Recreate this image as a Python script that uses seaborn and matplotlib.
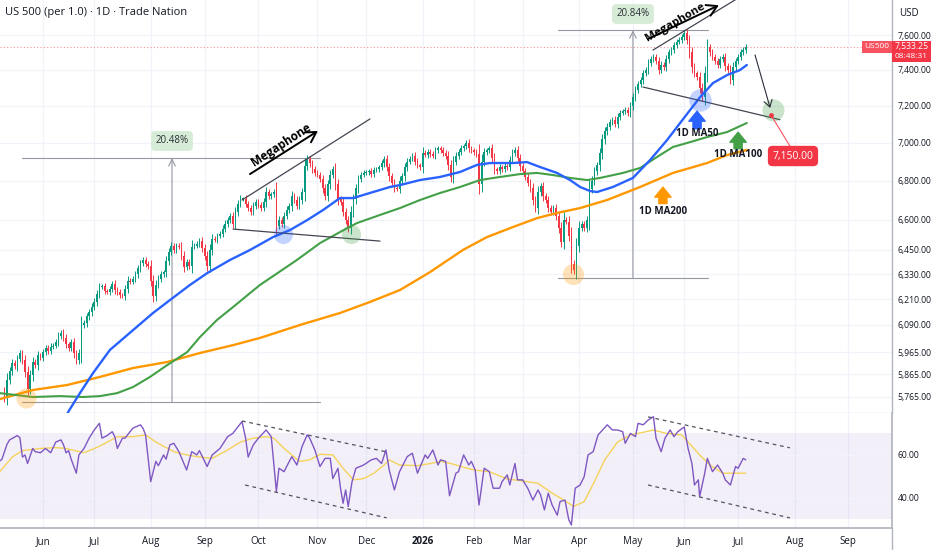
import numpy as np
import pandas as pd
import matplotlib
matplotlib.use("Agg")
import matplotlib.pyplot as plt
import seaborn as sns
from matplotlib.patches import Rectangle
from matplotlib.transforms import blended_transform_factory

# ---------------- data ----------------
holidays = ["2025-05-26", "2025-06-19", "2025-07-04", "2025-09-01", "2025-11-27",
            "2025-12-25", "2026-01-01", "2026-01-19", "2026-02-16", "2026-04-03",
            "2026-05-25", "2026-06-19", "2026-07-03", "2026-09-07"]
first_open = 5790
closes = [
    5760, 5840, 5880, 5915, 5900, 5935, 5960, 5930, 5875, 5800,
    5860, 5919, 5905, 5950, 5940, 5965, 5985, 5970, 5990, 5995,
    6010, 6040, 6055, 6030, 6000, 5985, 6010, 5960, 5930, 5960,
    6090, 6100, 6130, 6150, 6175, 6200, 6235, 6270, 6274, 6250,
    6245, 6260, 6284, 6255, 6245, 6230, 6226, 6260, 6300, 6295,
    6308, 6330, 6360, 6385, 6400, 6380, 6370, 6300, 6226, 6280,
    6310, 6330, 6340, 6396, 6440, 6470, 6450, 6470, 6465, 6420,
    6366, 6390, 6371, 6465, 6470, 6480, 6495, 6460, 6420, 6371,
    6450, 6505, 6500, 6520, 6530, 6555, 6580, 6600, 6620, 6580,
    6640, 6680, 6706, 6706, 6680, 6660, 6640, 6670, 6690, 6675,
    6660, 6690, 6741, 6720, 6730, 6741, 6570, 6600, 6580, 6620,
    6650, 6670, 6721, 6700, 6670, 6700, 6741, 6875, 6912, 6890,
    6860, 6840, 6830, 6808, 6760, 6721, 6780, 6830, 6860, 6780,
    6706, 6690, 6640, 6600, 6560, 6640, 6706, 6760, 6808, 6830,
    6840, 6844, 6850, 6835, 6855, 6860, 6870, 6890, 6912, 6870,
    6823, 6790, 6760, 6757, 6800, 6823, 6870, 6900, 6915, 6930,
    6900, 6880, 6870, 6945, 6935, 6950, 6940, 6930, 6960, 6970,
    6960, 6945, 6930, 6880, 6820, 6900, 6930, 6950, 6970, 6980,
    7000, 6970, 6960, 6950, 6940, 6780, 6900, 6950, 6960, 6970,
    6920, 6860, 6850, 6870, 6860, 6875, 6870, 6910, 6945, 6960,
    6920, 6875, 6850, 6820, 6790, 6760, 6700, 6660, 6740, 6770,
    6720, 6700, 6660, 6640, 6660, 6620, 6560, 6490, 6600, 6590,
    6520, 6380, 6350, 6470, 6560, 6580, 6560, 6600, 6757, 6800,
    6850, 6880, 6945, 7017, 7060, 7087, 7110, 7124, 7100, 7140,
    7162, 7170, 7178, 7160, 7200, 7249, 7290, 7320, 7344, 7380,
    7400, 7440, 7460, 7473, 7450, 7400, 7430, 7416, 7460, 7500,
    7513, 7540, 7560, 7571, 7590, 7612, 7571, 7500, 7416, 7380,
    7361, 7300, 7249, 7380, 7530, 7500, 7473, 7450, 7430, 7460,
    7473, 7420, 7400, 7344, 7416, 7450, 7473, 7500, 7513, 7533.25,
]

ma50_idx = [21.6, 24.8, 29.4, 34.5, 41.1, 50.1, 57.9, 64.5, 72.3, 79, 87.9, 95.7, 104.7,
            111.3, 118, 124.2, 130.8, 135.9, 143.7, 150.3, 154.2, 162, 169.8, 177.6,
            184.2, 189.3, 198.2, 203.7, 208.8, 215.4, 220.5, 224.4, 228.3, 231, 237.2,
            245, 251.7, 258.3, 263.4, 267.3, 271.2, 276.2, 281.7, 286.7, 289.4]
ma50_val = [5620, 5698, 5781, 5870, 5975, 6066, 6146, 6207, 6279, 6336, 6400, 6449, 6513,
            6548, 6598, 6649, 6710, 6710, 6741, 6767, 6777, 6803, 6819, 6845,
            6882, 6892, 6892, 6897, 6871, 6840, 6803, 6767, 6746, 6741, 6767,
            6814, 6908, 7014, 7106, 7177, 7248, 7326, 7371, 7399, 7428]

ma100_idx = [-1.8, 11.1, 21.6, 30.6, 37.2, 43.9, 50.1, 56.7, 63.4, 71.2, 76.2, 82.8, 89.1,
             95.7, 99.6, 114, 123, 130.8, 137.4, 146.4, 154.2, 162, 169.8, 177.6, 185.4,
             193.2, 201, 207.6, 213.8, 220.5, 227.1, 232.2, 241.1, 247.8, 254.4, 260.6,
             267.3, 273.9, 281.7, 289.4]
ma100_val = [5781, 5764, 5768, 5764, 5768, 5781, 5808, 5853, 5906, 5965, 6034, 6113, 6174,
             6240, 6279, 6400, 6483, 6538, 6583, 6624, 6659, 6700, 6736, 6767, 6803,
             6819, 6834, 6840, 6829, 6814, 6803, 6814, 6840, 6866, 6924, 6977,
             7003, 7030, 7057, 7106]

ma200_idx = [-1.8, 11.1, 24.4, 37.2, 50.1, 63.4, 76.2, 89.1, 99.6, 115.2, 130.8, 142.5,
             154.2, 165.9, 178.7, 188.1, 198.2, 207.6, 215.4, 224.4, 234.9, 247.8, 260.6,
             273.9, 281.7, 289.4]
ma200_val = [5755, 5795, 5817, 5853, 5893, 5920, 5961, 5997, 6030, 6090, 6146, 6198,
             6255, 6341, 6449, 6513, 6563, 6608, 6634, 6659, 6700, 6767, 6840,
             6892, 6934, 6961]

rsi_idx = [-2, -1, 1, 2, 5, 6, 7, 8, 9, 11, 12, 14, 16, 18, 20, 22, 23, 24, 25, 26, 28, 29,
           31, 33, 35, 37, 38, 40, 42, 43, 44, 46, 47, 50, 53, 54, 55, 57, 59, 60, 62, 63,
           64.5, 66, 68, 71, 73, 75, 76, 79, 81, 84, 87, 89, 92.6, 94, 95, 97, 99, 102,
           104, 106, 107, 109, 110, 112, 114, 116, 118, 119, 121, 123, 125, 127, 128,
           130, 131, 132, 133, 134, 135.5, 137, 140, 143, 145, 147, 148.7, 150, 152,
           154, 157, 159, 161, 164, 165, 167, 169, 170, 172, 173.5, 176, 177, 179,
           181, 182, 183.5, 185, 187, 189, 190.5, 193, 194, 196, 197, 199, 200, 202,
           204, 206, 208, 209, 210.5, 212, 213.5, 215.5, 216.6, 218.5, 220, 221,
           222.5, 224.4, 226, 227.5, 229.5, 231.4, 235, 237, 239, 241, 242, 244, 246,
           247, 249, 251, 253, 254, 256, 257.5, 259.5, 261, 262.5, 265, 266.5, 268,
           269, 270.5, 271, 273, 274, 276, 278, 280, 281, 283, 285, 286, 288, 289]
rsi_val = [57, 58, 65, 67, 69, 68, 59, 60, 56, 63, 61.5, 61, 63, 61, 66, 67, 64.7, 61, 62,
           58, 51.5, 60, 63, 67.8, 71.6, 74.7, 67.8, 69, 70.8, 68.5, 63, 67.8, 67.8, 72.4,
           74, 72.4, 69.3, 47.6, 57, 55, 60, 58, 64.7, 65.4, 61.5, 53, 61.5, 60, 62, 54.6,
           60, 63, 68.5, 70, 75.5, 67.8, 59, 64.7, 67.8, 71.6, 68.5, 43, 53.8, 52.2,
           54.6, 59.2, 55.3, 63.9, 69.3, 67.8, 62.3, 54.6, 58.4, 58.4, 49, 53.8, 44.5,
           37.5, 43.7, 36, 47.6, 53.8, 55.3, 57.7, 58.4, 56, 62.3, 53, 43.7, 52.2, 59.2,
           60.8, 51.5, 60, 58.4, 62.3, 55.3, 57.7, 57, 41, 51.5, 52.2, 60, 55.3, 57, 53,
           36.7, 53.8, 52.2, 44.5, 44.5, 47.6, 50.7, 46, 56, 48.4, 48.4, 44.5, 39, 43.7,
           41.4, 34.4, 42.2, 36.7, 32, 38.3, 39, 29.8, 27.4, 44.5, 46, 49.9, 60, 61.5,
           69.3, 74, 71.6, 71.6, 70.8, 65.4, 70, 68.5, 74.7, 74, 76.3, 77.8, 67.8,
           61.5, 67.8, 71.6, 68.5, 70.8, 73, 63, 56, 46, 48.4, 40.6, 51.5, 58.4, 52.2,
           55.3, 51.5, 48.4, 46, 54.6, 53.8, 58.4, 57.7]

rsima_idx = [-2, 3, 7, 14, 20, 24, 31, 37, 44, 50, 55, 59, 66, 71, 76, 81, 87, 92, 97, 102,
             105, 109, 113, 115, 119, 123, 128, 132, 136, 140, 144, 148, 150, 154, 161,
             166, 170, 174, 178, 183, 189, 196, 202, 208, 213, 218, 222, 226, 230, 234,
             239, 244, 249, 253, 258, 264, 266.5, 271, 275, 280, 284, 289]
rsima_val = [52, 59, 62, 63, 63.4, 63, 61, 64, 68.5, 68.5, 69.3, 66, 61.5, 60, 59, 58.4,
             62.3, 66, 67.8, 68.5, 67.8, 63, 59, 57, 57.7, 60.3, 60, 53.8, 48.4, 49, 51.5,
             55.3, 57.7, 55.3, 55, 56, 57, 56, 54.6, 53, 52.2, 48.8, 47.9, 46.8, 42.6, 39,
             36, 38.3, 47.6, 57.7, 66, 69.3, 70.5, 71.6, 70, 69.3, 66, 60, 55.3, 51.5,
             51.5, 51.5]

price_ticks = [5765, 5865, 5965, 6090, 6210, 6330, 6450, 6600, 6800, 7000, 7200, 7400, 7600]
rsi_ticks = [40, 60]
last_price = 7533.25
target_price = 7150.00
move1_pct = "20.48%"
move2_pct = "20.84%"

# ---------------- style ----------------
sns.set_theme(style="white")
plt.rcParams["font.family"] = ["Open Sans", "DejaVu Sans"]

GREEN_C = "#089981"
RED_C = "#f23645"
TXT = "#131722"
GRID = "#f0f3fa"
AXC = "#b2b5be"

W, H = 932, 550
fig = plt.figure(figsize=(W / 100, H / 100), dpi=100)
fig.patch.set_facecolor("white")

def fx(px):
    return px / W

def fy(py):
    return 1 - py / H

ax = fig.add_axes([0, fy(413), fx(892), 413 / H])
ax_r = fig.add_axes([0, fy(528), fx(892), (528 - 413) / H], sharex=ax)

dates = pd.bdate_range("2025-05-09", "2026-09-30", freq="C", holidays=holidays)
n = len(closes)
xi = np.arange(n)

# month ticks
mt_pos, mt_lab = [], []
prev = None
for i, d in enumerate(dates):
    key = (d.year, d.month)
    if key != prev:
        if i > 0:
            mt_pos.append(i)
            mt_lab.append("2026" if d.month == 1 else d.strftime("%b"))
        prev = key

XMIN, XMAX = -1.75, 346
for a in (ax, ax_r):
    a.set_xlim(XMIN, XMAX)
    a.set_facecolor("white")
    for p in mt_pos:
        a.axvline(p, color=GRID, lw=0.9, zorder=0)

# ---- price panel ----
ax.set_yscale("log")
ax.set_ylim(5694, 7806)
for t in price_ticks:
    ax.axhline(t, color=GRID, lw=0.9, zorder=0)

c = np.array(closes, dtype=float)
o = np.r_[first_open, c[:-1]]
up = c >= o
cols = np.where(up, GREEN_C, RED_C)
b_lo = np.minimum(o, c)
b_hi = np.maximum(o, c)
b_h = np.maximum(b_hi - b_lo, 0.0005 * c)
wick = 0.0016 * c + 0.25 * (b_hi - b_lo)
ax.vlines(xi, b_lo - wick, b_hi + wick, colors=cols, lw=0.7, zorder=3)
ax.bar(xi, b_h, bottom=b_lo, width=0.62, color=cols, linewidth=0, zorder=4)

sns.lineplot(x=ma200_idx, y=ma200_val, ax=ax, color="#ff9800", lw=1.7, estimator=None,
             sort=False, zorder=5)
sns.lineplot(x=ma100_idx, y=ma100_val, ax=ax, color="#43a047", lw=1.5, estimator=None,
             sort=False, zorder=5)
sns.lineplot(x=ma50_idx, y=ma50_val, ax=ax, color="#2962ff", lw=1.7, estimator=None,
             sort=False, zorder=6)

# last price dotted line
ax.axhline(last_price, color=RED_C, lw=0.8, ls=(0, (1, 2)), alpha=0.55, zorder=2)

# circles
for (cx, cy, cc, s) in [(8.4, 5759, "#ff9800", 210), (108.6, 6528, "#2962ff", 190),
                        (135.1, 6528, "#43a047", 190), (221.6, 6332, "#ff9800", 230),
                        (271.2, 7232, "#2962ff", 260), (299.6, 7177, "#43a047", 250)]:
    ax.scatter([cx], [cy], s=s, color=cc, alpha=0.28, linewidths=0, zorder=7)

# measurement 1
mc = "#9598a1"
ax.plot([6.8, 123], [6918, 6918], color=mc, lw=0.8, zorder=2)
ax.plot([6.8, 123], [5742, 5742], color=mc, lw=0.8, zorder=2)
ax.annotate("", xy=(65.3, 6918), xytext=(65.3, 5742),
            arrowprops=dict(arrowstyle="->", color=mc, lw=0.8, shrinkA=0, shrinkB=0), zorder=2)
ax.text(65.3, 7009, move1_pct, ha="center", va="center", fontsize=7, color="#2a2e39",
        bbox=dict(boxstyle="round,pad=0.45", fc="#d7ecd6", ec="none"), zorder=8)
# measurement 2
ax.plot([215.8, 274.3], [7627, 7627], color=mc, lw=0.8, zorder=2)
ax.plot([215.8, 274.3], [6312, 6312], color=mc, lw=0.8, zorder=2)
ax.annotate("", xy=(245, 7627), xytext=(245, 6312),
            arrowprops=dict(arrowstyle="->", color=mc, lw=0.8, shrinkA=0, shrinkB=0), zorder=2)
ax.text(245, 7723, move2_pct, ha="center", va="center", fontsize=7, color="#2a2e39",
        bbox=dict(boxstyle="round,pad=0.45", fc="#d7ecd6", ec="none"), zorder=8)

# megaphone 1
ax.plot([89.1, 146.4], [6553, 6493], color="#434651", lw=0.9, zorder=6)
ax.plot([92.6, 142.5], [6700, 7128], color="#434651", lw=0.9, zorder=6)
ax.annotate("", xy=(122.2, 7063), xytext=(95.7, 6834),
            arrowprops=dict(arrowstyle="->,head_length=0.6,head_width=0.35", color="black",
                            lw=1.4, shrinkA=0, shrinkB=0), zorder=8)
ax.text(107.8, 6987, "Megaphone", rotation=33, rotation_mode="anchor", ha="center",
        va="center", fontsize=8.5, fontweight="bold", color="black", zorder=8)
# megaphone 2
ax.plot([248.9, 302.3], [7304, 7124], color="#434651", lw=0.9, zorder=6)
ax.plot([252.8, 286.7], [7513, 7824], color="#434651", lw=0.9, zorder=6)
ax.annotate("", xy=(278.5, 7775), xytext=(250.9, 7577),
            arrowprops=dict(arrowstyle="->,head_length=0.6,head_width=0.35", color="black",
                            lw=1.4, shrinkA=0, shrinkB=0), zorder=8, annotation_clip=False)
ax.text(261.5, 7672, "Megaphone", rotation=30, rotation_mode="anchor", ha="center",
        va="center", fontsize=8.2, fontweight="bold", color="black", zorder=8)

# projection arrow and target
ax.annotate("", xy=(298.5, 7188), xytext=(292.6, 7485),
            arrowprops=dict(arrowstyle="->,head_length=0.4,head_width=0.25", color="#2a2e39",
                            lw=0.8, shrinkA=0, shrinkB=0), zorder=8)
ax.plot([298.8, 306.5], [target_price, 6975], color="#f7525f", lw=0.8, zorder=8)
ax.scatter([298.8], [target_price], s=12, color=RED_C, zorder=9, linewidths=0)
ax.text(307.4, 6929, f"{target_price:,.2f}", ha="center", va="center", fontsize=7.5,
        color="white", bbox=dict(boxstyle="round,pad=0.45", fc=RED_C, ec="none"), zorder=9)

# fat MA arrows and labels
def fat_arrow(x, y0, y1, col):
    ax.annotate("", xy=(x, y1), xytext=(x, y0),
                arrowprops=dict(arrowstyle="simple,head_length=0.55,head_width=0.9,tail_width=0.45",
                                color=col, mutation_scale=13, shrinkA=0, shrinkB=0), zorder=9)

fat_arrow(270, 7075, 7170, "#2962ff")
ax.text(270, 7050, "1D MA50", ha="center", va="center", fontsize=7, fontweight="bold",
        color=TXT, zorder=9)
fat_arrow(286, 6968, 7056, "#43a047")
ax.text(286, 6938, "1D MA100", ha="center", va="center", fontsize=7, fontweight="bold",
        color=TXT, zorder=9)
fat_arrow(256.7, 6682, 6766, "#ff9800")
ax.text(256.7, 6642, "1D MA200", ha="center", va="center", fontsize=7, fontweight="bold",
        color=TXT, zorder=9)

# tag on the chart
bt = blended_transform_factory(ax.transAxes, ax.transData)
ax.text(0.997, last_price, "US500", transform=bt, ha="right", va="center", fontsize=6,
        color="white", bbox=dict(boxstyle="square,pad=0.3", fc="#f7525f", ec="none"), zorder=10)

ax.yaxis.tick_right()
ax.set_yticks(price_ticks)
ax.set_yticklabels([f"{t:,.2f}" for t in price_ticks])
ax.yaxis.set_minor_locator(matplotlib.ticker.NullLocator())
ax.tick_params(axis="y", length=0, pad=4, labelsize=6.2, labelcolor=TXT)
ax.tick_params(axis="x", length=0, labelbottom=False)
ax.set_xlabel("")
ax.set_ylabel("")
for s in ["top", "left"]:
    ax.spines[s].set_visible(False)
ax.spines["right"].set_color(AXC)
ax.spines["right"].set_linewidth(1.0)
ax.spines["bottom"].set_color("#e0e3eb")
ax.spines["bottom"].set_linewidth(1.0)

# ---- RSI panel ----
ax_r.set_ylim(26, 79.5)
ax_r.axhspan(30, 70, color="#7e57c2", alpha=0.09, lw=0, zorder=0)
for t in rsi_ticks:
    ax_r.axhline(t, color=GRID, lw=0.9, zorder=1)
sns.lineplot(x=rsima_idx, y=rsima_val, ax=ax_r, color="#f5d35a", lw=1.0, estimator=None,
             sort=False, zorder=3)
sns.lineplot(x=rsi_idx, y=rsi_val, ax=ax_r, color="#7e57c2", lw=1.0, estimator=None,
             sort=False, zorder=4)
dash = dict(color="#50535e", lw=0.9, ls=(0, (3, 3)), zorder=5)
ax_r.plot([92.6, 149], [75.8, 61.4], **dash)
ax_r.plot([93.8, 149], [46.0, 30.7], **dash)
ax_r.plot([250.9, 306.2], [77.7, 63.3], **dash)
ax_r.plot([250.9, 306.2], [46.0, 30.7], **dash)

ax_r.yaxis.tick_right()
ax_r.set_yticks(rsi_ticks)
ax_r.set_yticklabels([f"{t:.2f}" for t in rsi_ticks])
ax_r.tick_params(axis="y", length=0, pad=4, labelsize=6.2, labelcolor=TXT)
ax_r.set_xticks(mt_pos)
ax_r.set_xticklabels(mt_lab)
for lab in ax_r.get_xticklabels():
    if lab.get_text() == "2026":
        lab.set_fontweight("bold")
ax_r.tick_params(axis="x", length=0, pad=6, labelsize=7, labelcolor=TXT)
ax_r.set_xlabel("")
ax_r.set_ylabel("")
for s in ["top", "left"]:
    ax_r.spines[s].set_visible(False)
ax_r.spines["right"].set_color(AXC)
ax_r.spines["bottom"].set_color(AXC)

# ---- figure-level texts ----
fig.text(fx(5), fy(13), "US 500 (per 1.0) · 1D · Trade Nation", fontsize=8, color=TXT,
         ha="left", va="center")
fig.text(fx(899), fy(13), "USD", fontsize=7, color=TXT, ha="left", va="center")
fig.patches.append(Rectangle((fx(892), fy(62)), 39 / W, 21 / H, transform=fig.transFigure,
                             fc=RED_C, ec="none", zorder=10))
fig.text(fx(911.5), fy(46.5), f"{last_price:,.2f}", fontsize=6.2, color="white", ha="center",
         va="center", zorder=11)
fig.text(fx(911.5), fy(56.5), "08:48:31", fontsize=6, color="white", ha="center",
         va="center", zorder=11)
fig.add_artist(plt.Line2D([fx(892), fx(892)], [0, fy(528)], color=AXC, lw=1.0))

fig.savefig("out.png", dpi=100, facecolor="white")
